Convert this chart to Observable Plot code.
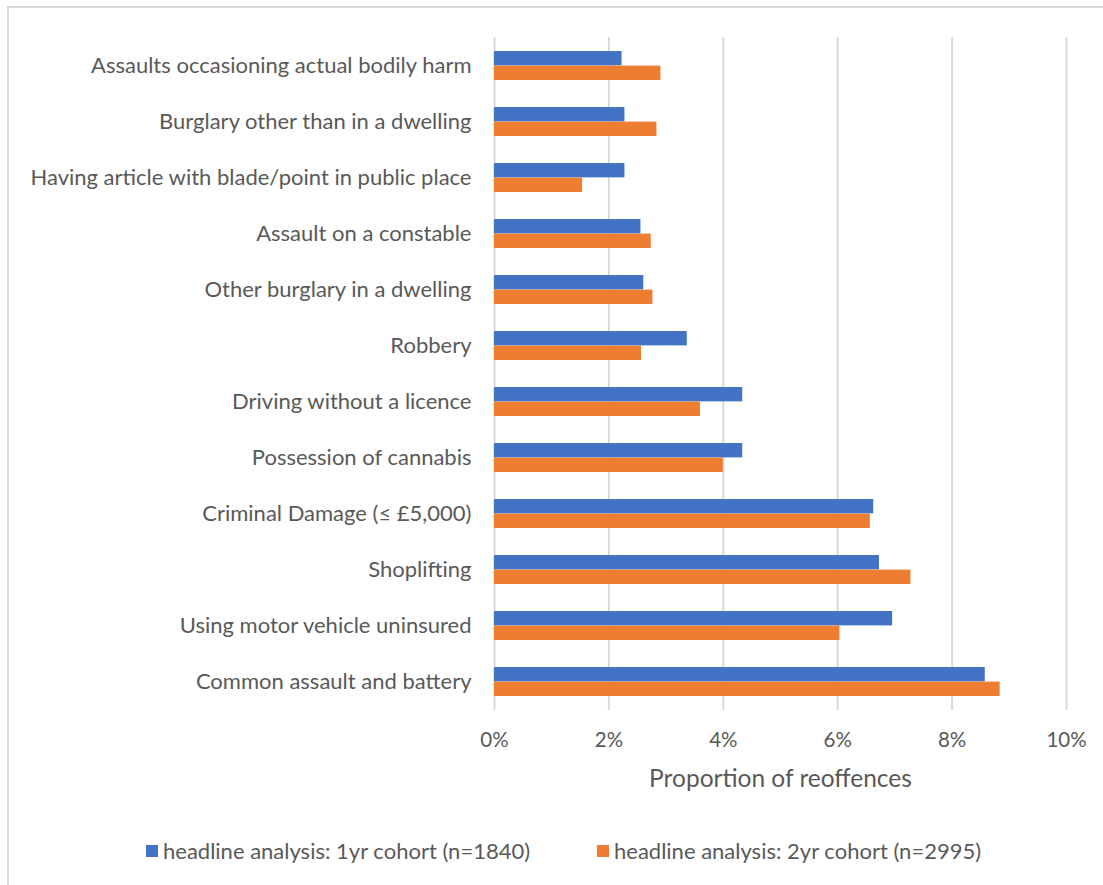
<!DOCTYPE html>
<html>
<head>
<meta charset="utf-8">
<script src="https://cdn.jsdelivr.net/npm/d3@7"></script>
<script src="https://cdn.jsdelivr.net/npm/@observablehq/plot@0.6"></script>
<style>
  html, body { margin: 0; padding: 0; background: #fff; overflow: hidden; width: 1103px; height: 885px; }
  #frame { position: absolute; left: 7px; top: 6px; width: 1120px; height: 900px; border: 2px solid #d9d9d9; box-sizing: border-box; }
  #chart { position: absolute; left: 0; top: 0; }
  #legend { position: absolute; left: 0; top: 837px; width: 1103px; font-family: Lato, "Open Sans", sans-serif; font-size: 22px; color: #595959; }
  .item { position: absolute; top: 0; display: flex; align-items: center; white-space: nowrap; }
  .sw { width: 12px; height: 12px; margin-right: 5px; }
</style>
</head>
<body>
<div id="frame"></div>
<div id="chart"></div>
<div id="legend"></div>
<script>
const categories = [
  "Assaults occasioning actual bodily harm",
  "Burglary other than in a dwelling",
  "Having article with blade/point in public place",
  "Assault on a constable",
  "Other burglary in a dwelling",
  "Robbery",
  "Driving without a licence",
  "Possession of cannabis",
  "Criminal Damage (≤ £5,000)",
  "Shoplifting",
  "Using motor vehicle uninsured",
  "Common assault and battery"
];
const cohort1yr = [2.23, 2.28, 2.28, 2.56, 2.61, 3.37, 4.34, 4.34, 6.63, 6.73, 6.96, 8.58];
const cohort2yr = [2.91, 2.84, 1.54, 2.74, 2.77, 2.57, 3.60, 4.00, 6.57, 7.28, 6.04, 8.84];
const seriesNames = ["headline analysis: 1yr cohort (n=1840)", "headline analysis: 2yr cohort (n=2995)"];
const colors = ["#4472c4", "#ed7d31"];
const xTicks = [0, 2, 4, 6, 8, 10];

const d1 = categories.map((c, i) => ({category: c, value: cohort1yr[i] / 100}));
const d2 = categories.map((c, i) => ({category: c, value: cohort2yr[i] / 100}));

const fontFamily = 'Lato, "Open Sans", sans-serif';

const chart = Plot.plot({
  width: 1103,
  height: 810,
  marginTop: 37,
  marginBottom: 100,
  marginLeft: 494,
  marginRight: 37,
  style: {fontFamily, fontSize: "22px", color: "#595959", background: "transparent"},
  x: {domain: [0, 0.10], ticks: xTicks.map(t => t / 100), tickFormat: d => Math.round(d * 100) + "%", label: null},
  y: {domain: categories, paddingInner: 0.48, paddingOuter: 0.24, label: null},
  marks: [
    Plot.gridX(xTicks.map(t => t / 100), {stroke: "#d9d9d9", strokeOpacity: 1, strokeWidth: 2}),
    Plot.barX(d1, {x: "value", y: "category", fill: colors[0], insetBottom: 14.6}),
    Plot.barX(d2, {x: "value", y: "category", fill: colors[1], insetTop: 14.6}),
    Plot.axisY({tickSize: 0, tickPadding: 23, fontSize: 22, fill: "#595959"}),
    Plot.axisX(xTicks.map(t => t / 100), {tickSize: 0, tickPadding: 22, fontSize: 20.5, fill: "#595959", tickFormat: d => Math.round(d * 100) + "%", label: null}),
    Plot.text(["Proportion of reoffences"], {frameAnchor: "bottom", lineAnchor: "middle", dy: 69, fontSize: 24.5, fill: "#595959"})
  ]
});
document.getElementById("chart").appendChild(chart);

const legend = document.getElementById("legend");
const lefts = [146, 597];
seriesNames.forEach((name, i) => {
  const it = document.createElement("div");
  it.className = "item";
  it.style.left = lefts[i] + "px";
  const sw = document.createElement("span");
  sw.className = "sw";
  sw.style.background = colors[i];
  const tx = document.createElement("span");
  tx.textContent = name;
  it.appendChild(sw);
  it.appendChild(tx);
  legend.appendChild(it);
});
</script>
</body>
</html>
